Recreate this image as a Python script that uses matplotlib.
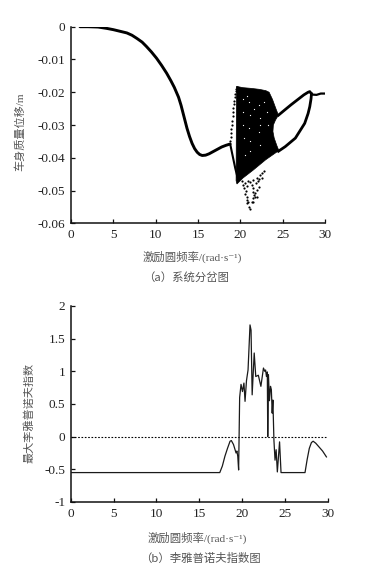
import matplotlib
matplotlib.use("Agg")
import matplotlib.pyplot as plt
from matplotlib import font_manager
import numpy as np

plt.rcParams['font.family'] = ['Liberation Serif', 'Noto Sans CJK SC', 'DejaVu Sans']
plt.rcParams['axes.unicode_minus'] = False

# make sure the serif face exists (raises otherwise)
font_manager.findfont(font_manager.FontProperties(family='Liberation Serif'),
                      fallback_to_default=False)

# ---------------- (a) bifurcation diagram data ----------------
# period-1 branch
p1_x = [1.06, 2.0, 3.2, 4.2, 5.0, 5.8, 6.6, 7.2, 7.8, 8.4, 8.9, 9.5, 10.1, 10.7, 11.3, 11.8,
        12.2, 12.7, 13.0, 13.3, 13.7, 14.0, 14.3, 14.6, 14.9, 15.2, 15.5, 15.9, 16.3, 16.8,
        17.3, 17.8, 18.3, 18.8]
p1_y = [0.0, 0.0, -0.0001, -0.0005, -0.0009, -0.0014, -0.0019, -0.0026, -0.0036, -0.0047,
        -0.0060, -0.0077, -0.0096, -0.0118, -0.0142, -0.0165, -0.0185, -0.0215, -0.0240,
        -0.0270, -0.0310, -0.0335, -0.0356, -0.0372, -0.0383, -0.0390, -0.0393, -0.0392,
        -0.0388, -0.0381, -0.0374, -0.0367, -0.0362, -0.0358]
# branch falling into the chaotic band
drop_x = [18.8, 19.1, 19.4, 19.65]
drop_y = [-0.0358, -0.0395, -0.0432, -0.0458]
# dotted left edge of the band
edge_x = [18.82, 18.86, 18.9, 18.94, 18.98, 19.03, 19.08, 19.13, 19.18, 19.23, 19.28,
          19.33, 19.38, 19.44, 19.5, 19.55]
edge_y = [-0.0350, -0.0338, -0.0325, -0.0312, -0.0300, -0.0287, -0.0274, -0.0261,
          -0.0249, -0.0237, -0.0226, -0.0215, -0.0206, -0.0197, -0.0190, -0.0185]
# chaotic band outline
band_x = [19.55, 20.3, 21.2, 22.2, 23.0, 23.4, 23.8, 24.2, 24.5, 24.15, 23.9, 23.85,
          24.0, 24.3, 24.55, 23.0, 21.5, 20.3, 19.6, 19.5]
band_y = [-0.0182, -0.0186, -0.0188, -0.0191, -0.0195, -0.0200, -0.0222, -0.0250,
          -0.0270, -0.0285, -0.0300, -0.0320, -0.0340, -0.0362, -0.0378, -0.0406,
          -0.0438, -0.0462, -0.0480, -0.0470]
# sparse points below the band
sp_x = [20.55, 20.75, 20.43, 20.67, 20.55, 20.82, 20.75, 20.94, 21.06, 21.14, 21.14,
        21.34, 21.53, 21.46, 21.61, 21.46, 21.34, 21.93, 22.12, 21.85, 22.24, 22.0,
        21.73, 21.93, 22.32, 22.52, 22.24, 21.53, 20.94, 20.75, 21.73, 21.53, 20.2,
        20.35, 22.6, 22.8]
sp_y = [-0.0478, -0.0485, -0.0493, -0.0501, -0.0511, -0.0519, -0.0529, -0.0536,
        -0.0549, -0.0556, -0.0473, -0.0483, -0.0491, -0.0503, -0.0513, -0.0524,
        -0.0534, -0.0463, -0.0471, -0.0478, -0.0488, -0.0498, -0.0508, -0.0519,
        -0.0452, -0.0461, -0.0465, -0.0468, -0.0471, -0.0539, -0.0519, -0.0534,
        -0.0470, -0.0482, -0.0445, -0.0440]
# white speckles inside the band
wh_x = [20.3, 20.35, 20.3, 20.4, 21.0, 21.1, 21.05, 21.15, 21.1, 22.2, 22.3, 22.25,
        22.35, 22.3, 20.8, 21.6, 22.8, 23.2, 23.3, 20.6]
wh_y = [-0.0220, -0.0260, -0.0300, -0.0340, -0.0230, -0.0270, -0.0310, -0.0350,
        -0.0380, -0.0240, -0.0280, -0.0320, -0.0300, -0.0360, -0.0210, -0.0250,
        -0.0230, -0.0260, -0.0300, -0.0390]
# period-2 loop and tail
up_x = [24.5, 25.2, 26.0, 26.8, 27.5, 28.0, 28.2, 28.4]
up_y = [-0.0270, -0.0255, -0.0238, -0.0222, -0.0208, -0.0200, -0.0198, -0.0205]
lo_x = [24.5, 25.3, 26.5, 27.6, 28.0, 28.2, 28.35, 28.4]
lo_y = [-0.0380, -0.0366, -0.0340, -0.0295, -0.0265, -0.0244, -0.0220, -0.0205]
tail_x = [28.4, 29.0, 29.5, 30.0]
tail_y = [-0.0207, -0.0208, -0.0204, -0.0204]

# ---------------- (b) largest Lyapunov exponent ----------------
ly_x = [0.0, 17.4, 17.7, 18.0, 18.3, 18.6, 18.75, 19.0, 19.3, 19.4, 19.5, 19.6, 19.72,
        19.88, 20.05, 20.22, 20.35, 20.52, 20.7, 20.93, 21.05, 21.18, 21.42, 21.6,
        21.9, 22.2, 22.5, 22.65, 22.75, 22.85, 22.95, 23.0, 23.08, 23.2, 23.32, 23.42,
        23.52, 23.6, 23.72, 23.85, 23.98, 24.12, 24.38, 24.55, 27.35, 27.6, 27.85,
        28.1, 28.3, 28.6, 29.0, 29.4, 29.85]
ly_y = [-0.55, -0.55, -0.45, -0.30, -0.18, -0.07, -0.06, -0.12, -0.25, -0.22, -0.30,
        -0.51, 0.60, 0.80, 0.69, 0.82, 0.54, 0.86, 1.02, 1.71, 1.63, 0.64, 1.28, 0.92,
        0.94, 0.77, 1.05, 1.00, 1.02, 0.92, 0.99, 0.0, 0.95, 0.55, 0.77, 0.72, 0.36,
        0.56, -0.05, -0.36, -0.20, -0.54, -0.08, -0.55, -0.55, -0.35, -0.18, -0.09,
        -0.07, -0.10, -0.16, -0.22, -0.31]

xticks = [0, 5, 10, 15, 20, 25, 30]
a_yticks = [0, -0.01, -0.02, -0.03, -0.04, -0.05, -0.06]
a_ylabels = ['0', '-0.01', '-0.02', '-0.03', '-0.04', '-0.05', '-0.06']
b_yticks = [2, 1.5, 1, 0.5, 0, -0.5, -1]
b_ylabels = ['2', '1.5', '1', '0.5', '0', '-0.5', '-1']

fig = plt.figure(figsize=(3.92, 5.72), dpi=100)
txt = '#222222'
lab = '#555555'
serif = ['Liberation Serif', 'DejaVu Serif']
mixed = ['Liberation Serif', 'Noto Sans CJK SC', 'DejaVu Sans']
cjk = ['Noto Sans CJK SC', 'Liberation Serif', 'DejaVu Sans']


def style(ax):
    for s in ['top', 'right']:
        ax.spines[s].set_visible(False)
    for s in ['left', 'bottom']:
        ax.spines[s].set_linewidth(1.1)
        ax.spines[s].set_color('#111111')
    ax.tick_params(direction='in', length=3, width=0.9, labelsize=9.5, colors='#111111',
                   labelcolor=txt, pad=4)
    for t in ax.get_xticklabels() + ax.get_yticklabels():
        t.set_family(serif)


# ---- (a)
ax1 = fig.add_axes([0.1811, 0.6096, 0.648, 0.3437])
ax1.fill(band_x, band_y, color='black', lw=0.5, zorder=2)
ax1.scatter(wh_x, wh_y, s=0.8, color='white', lw=0, zorder=3)
ax1.plot(p1_x, p1_y, color='black', lw=2.1, solid_capstyle='round', zorder=3)
ax1.plot(drop_x, drop_y, color='black', lw=1.5, zorder=3)
ax1.scatter(edge_x, edge_y, s=2.5, color='black', lw=0, zorder=3)
ax1.scatter(sp_x, sp_y, s=2.5, color='black', lw=0, zorder=3)
ax1.plot(up_x, up_y, color='black', lw=2.0, zorder=3)
ax1.plot(lo_x, lo_y, color='black', lw=2.0, zorder=3)
ax1.plot(tail_x, tail_y, color='black', lw=1.6, zorder=3)
ax1.set_xlim(0, 30)
ax1.set_ylim(-0.06, 0)
ax1.set_xticks(xticks)
ax1.set_yticks(a_yticks)
ax1.set_yticklabels(a_ylabels)
style(ax1)
ax1.set_ylabel('车身质量位移/m', fontsize=8, color=lab, family=mixed)
ax1.yaxis.set_label_coords(-0.181, 0.464)

# ---- (b)
ax2 = fig.add_axes([0.1804, 0.1224, 0.6556, 0.3427])
ax2.plot(ly_x, ly_y, color='#1a1a1a', lw=0.9, zorder=3)
ax2.plot([0, 30], [0, 0], color='black', lw=0.8, ls=(0, (1.5, 1.5)), zorder=2)
ax2.set_xlim(0, 30)
ax2.set_ylim(-1, 2)
ax2.set_xticks(xticks)
ax2.set_yticks(b_yticks)
ax2.set_yticklabels(b_ylabels)
style(ax2)
ax2.set_ylabel('最大李雅普诺夫指数', fontsize=8, color=lab, family=cjk)
ax2.yaxis.set_label_coords(-0.139, 0.454)

xlab = '激励圆频率/(rad·s\u207b\u00b9)'
fig.text(192 / 392, 1 - 257 / 572, xlab, fontsize=8.2,
         color=lab, family=mixed, ha='center', va='center')
fig.text(186 / 392, 1 - 277 / 572, '（a）系统分岔图', fontsize=8.2,
         color=lab, family=cjk, ha='center', va='center')
fig.text(197 / 392, 1 - 538 / 572, xlab, fontsize=8.2,
         color=lab, family=mixed, ha='center', va='center')
fig.text(200 / 392, 1 - 558 / 572, '（b）李雅普诺夫指数图', fontsize=8.2,
         color=lab, family=cjk, ha='center', va='center')

fig.savefig('out.png', dpi=100)
